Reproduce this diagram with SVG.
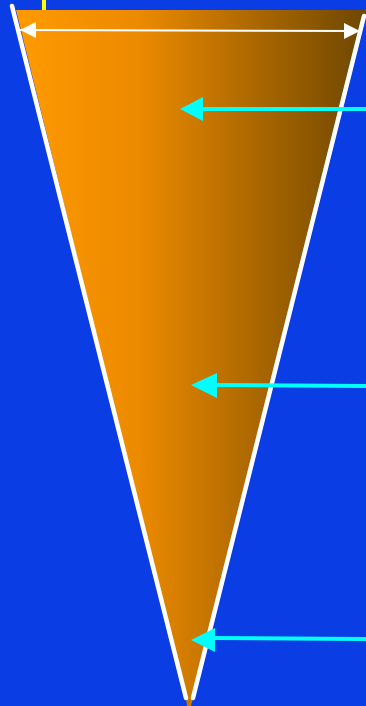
<svg xmlns="http://www.w3.org/2000/svg" width="366" height="706" viewBox="0 0 366 706">
<defs>
<linearGradient id="g" x1="16" y1="0" x2="366" y2="0" gradientUnits="userSpaceOnUse">
<stop offset="0" stop-color="#ff9a00"/>
<stop offset="0.35" stop-color="#ec8a00"/>
<stop offset="1" stop-color="#6e4700"/>
</linearGradient>
<style>
.edge{stroke:#ffffff;stroke-width:4.5;stroke-linecap:round}
.cy{stroke:#00ffff;stroke-width:4;fill:none}
.cyh{fill:#00ffff}
</style>
</defs>
<rect x="0" y="0" width="366" height="706" fill="#0a3de3"/>
<g id="cone">
<polygon points="16,10 366,10 366,16 193,698 191,706 187,706 186,698" fill="url(#g)"/>
<rect x="187" y="690" width="4" height="16" fill="#c87800"/>
</g>
<g id="marker-yellow"><rect x="42" y="0" width="4" height="10" fill="#ffff00"/></g>
<g id="edges">
<line class="edge" x1="12" y1="6" x2="186" y2="698"/>
<line class="edge" x1="364" y1="16" x2="193" y2="698"/>
</g>
<g id="connectors">
<g id="width-dim">
<line x1="20" y1="30" x2="360" y2="31" stroke="#ffffff" stroke-width="2"/>
<polygon points="20,30 36,22 36,38" fill="#ffffff"/>
<polygon points="360,31 344,23 344,39" fill="#ffffff"/>
</g>
<g id="arrow1">
<line class="cy" x1="366" y1="109" x2="200" y2="109"/>
<polygon class="cyh" points="180,109 203,97 203,121"/>
</g>
<g id="arrow2">
<line class="cy" x1="366" y1="386" x2="212" y2="385"/>
<polygon class="cyh" points="191,385 217,373 217,398"/>
</g>
<g id="arrow3">
<line class="cy" x1="366" y1="639" x2="212" y2="638"/>
<polygon class="cyh" points="191,640 215,628 215,652"/>
</g>
</g>
</svg>
